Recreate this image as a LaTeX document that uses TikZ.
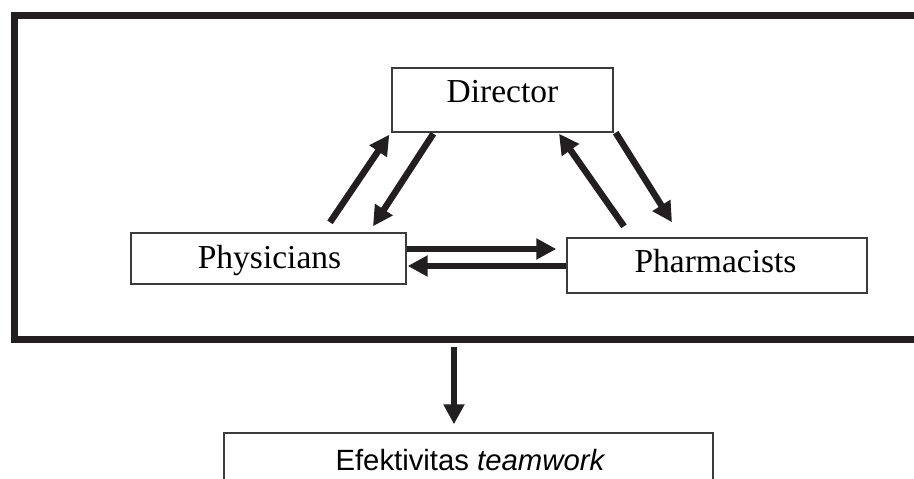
\documentclass[tikz,border=0pt]{standalone}
\usepackage{fontspec}
\setmainfont{Liberation Serif}
\newfontfamily\arialf{Liberation Sans}
\usetikzlibrary{arrows.meta,calc}
\definecolor{ink}{HTML}{231F20}
\definecolor{boxline}{HTML}{3C3C3C}
\begin{document}
\begin{tikzpicture}[x=1pt,y=-1pt,
  box/.style={draw=boxline, line width=1.4pt, inner sep=0pt},
  lbl/.style={anchor=base, inner sep=0pt, font=\fontsize{33.5}{40}\selectfont},
  slbl/.style={anchor=base, inner sep=0pt, font=\arialf\fontsize{29.3}{35}\selectfont},
  flow/.style={draw=ink, line width=6.5pt, -{Triangle[length=20pt,width=20pt]}, color=ink},
  framestyle/.style={draw=ink, line width=7pt, line join=miter}]
\useasboundingbox (0,0) rectangle (914,479);
\draw[framestyle] (914,15.5) -- (14.5,15.5) -- (14.5,339.5) -- (914,339.5);
\node[box, minimum width=221pt, minimum height=64pt] (dir) at (502.5,100) {};
\node[lbl] (dirt) at (502.5,102) {Director};
\node[box, minimum width=275pt, minimum height=51pt] (phy) at (268.5,258.5) {};
\node[lbl] (phyt) at (269.5,268) {Physicians};
\node[box, minimum width=300pt, minimum height=55pt] (pha) at (717,265.5) {};
\node[lbl] (phat) at (715.5,272) {Pharmacists};
\node[box, minimum width=489pt, minimum height=53pt] (eff) at (468.5,459.5) {};
\node[slbl] (efft) at (470.5,470) {Efektivitas \textit{teamwork}};
\coordinate (fb) at (454,347);
\draw[flow] ($(phy.north)+(61.5,-10)$) -- ($(dir.south west)+(-2,2)$);
\draw[flow] ($(dir.south west)+(42,1)$) -- ($(phy.north)+(104.5,-6)$);
\draw[flow] ($(pha.north)+(-93,-11)$) -- ($(dir.south)+(56.5,1)$);
\draw[flow] ($(dir.south east)+(2,0)$) -- ($(pha.north)+(-45,-15)$);
\draw[flow] ($(phy.east)+(0,-9.5)$) -- ($(pha.west)+(-10,-16.5)$);
\draw[flow] ($(pha.west)+(0,0.5)$) -- ($(phy.east)+(1,7.5)$);
\draw[flow] (fb) -- ($(eff.north)+(-14.5,-8)$);
\end{tikzpicture}
\end{document}
